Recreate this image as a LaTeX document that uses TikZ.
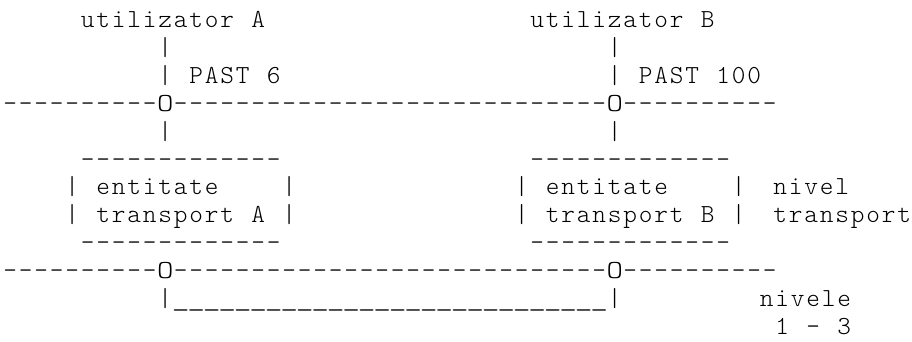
\documentclass[tikz,border=0pt]{standalone}
\usepackage{graphicx}
\usepackage{fontspec}
\newfontfamily\asciifont{lmmonolt10-regular}[Extension=.otf]
\newlength{\cellw}
\setlength{\cellw}{15.5pt}
\ExplSyntaxOn
\NewDocumentCommand{\cells}{m}{\tl_map_inline:nn {#1} {\makebox[\cellw][c]{##1}}}
\ExplSyntaxOff
\newcommand{\us}{\scalebox{1.3}[1]{\_}}
\newcommand{\oo}{\scalebox{1.2}[1]{O}}
% node at column #3, line #4, optional x shift #1
\newcommand{\asc}[5][0]{\node[ascii] (#2) at ({2.5pt+#3*15.5pt+#1pt},{-27.5pt-(#4-1)*27.9pt}) {\cells{#5}};}
\tikzset{ascii/.style={anchor=base west, inner sep=0pt, outer sep=0pt, text=black,
  font=\fontsize{26pt}{28pt}\selectfont\asciifont}}
\begin{document}
\begin{tikzpicture}[x=1pt,y=1pt]
\useasboundingbox[fill=white] (0,0) rectangle (912,-342);
% line 1
\asc{ua}{5}{1}{utilizator~A}
\asc{ub}{34}{1}{utilizator~B}
% line 2
\asc{pa2}{10}{2}{|}
\asc{pb2}{39}{2}{|}
% line 3
\asc{pasta}{10}{3}{|~PAST~6}
\asc{pastb}{39}{3}{|~PAST~100}
% line 4
\asc{busup}{0}{4}{----------\oo----------------------------\oo----------}
% line 5
\asc{pa5}{10}{5}{|}
\asc{pb5}{39}{5}{|}
% line 6
\asc{topa}{5}{6}{-------------}
\asc{topb}{34}{6}{-------------}
% line 7
\asc{ea}{4}{7}{|~entitate~~~~|}
\asc{eb}{33}{7}{|~entitate~~~~|}
\asc[-5]{niv}{50}{7}{nivel}
% line 8
\asc{ta}{4}{8}{|~transport~A~|}
\asc{tb}{33}{8}{|~transport~B~|}
\asc[-5]{tr}{50}{8}{transport}
% line 9
\asc{bota}{5}{9}{-------------}
\asc{botb}{34}{9}{-------------}
% line 10
\asc{busdown}{0}{10}{----------\oo----------------------------\oo----------}
% line 11
\asc{link}{10}{11}{|\us\us\us\us\us\us\us\us\us\us\us\us\us\us\us\us\us\us\us\us\us\us\us\us\us\us\us\us|}
\asc[-3]{nivele}{49}{11}{nivele}
% line 12
\asc[-3]{range}{50}{12}{1~-~3}
\end{tikzpicture}
\end{document}
